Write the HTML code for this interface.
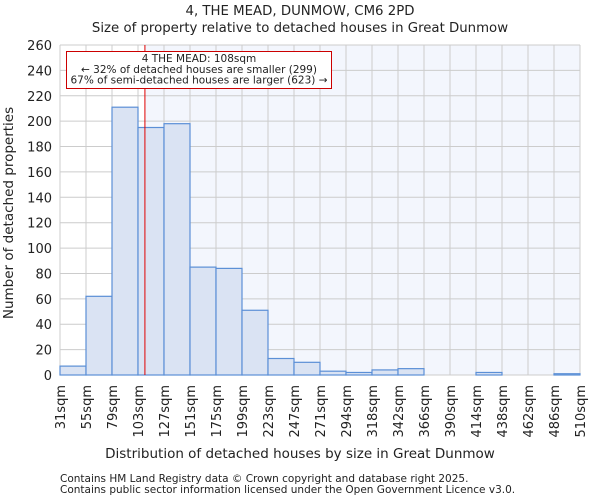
<!DOCTYPE html>
<html><head><meta charset="utf-8"><style>
body{margin:0;background:#fff;font-family:"DejaVu Sans","Liberation Sans",sans-serif;}
svg text{font-family:"DejaVu Sans","Liberation Sans",sans-serif;fill:#222;}
</style></head><body>
<svg id="c" width="600" height="500">
<text x="300" y="15" text-anchor="middle" font-size="13.3">4, THE MEAD, DUNMOW, CM6 2PD</text>
<text x="300" y="32" text-anchor="middle" font-size="13.3">Size of property relative to detached houses in Great Dunmow</text>
<g id="plot"></g>
<text x="300" y="458" text-anchor="middle" font-size="13.5">Distribution of detached houses by size in Great Dunmow</text>
<text transform="translate(13,213) rotate(-90)" text-anchor="middle" font-size="13.5">Number of detached properties</text>
<text x="60" y="482" font-size="10.5">Contains HM Land Registry data © Crown copyright and database right 2025.</text>
<text x="60" y="493" font-size="10.5">Contains public sector information licensed under the Open Government Licence v3.0.</text>
</svg>
<script>
const binLabels=["31sqm","55sqm","79sqm","103sqm","127sqm","151sqm","175sqm","199sqm","223sqm","247sqm","271sqm","294sqm","318sqm","342sqm","366sqm","390sqm","414sqm","438sqm","462sqm","486sqm","510sqm"];
const counts=[7,62,211,195,198,85,84,51,13,10,3,2,4,5,0,0,2,0,0,1];
const yTicks=[0,20,40,60,80,100,120,140,160,180,200,220,240,260];
const propertySize=108;
const binStart=31,binWidth=24;
const X0=60,X1=580,Y0=375,Y1=45,YMAX=260;
const ns="http://www.w3.org/2000/svg";
const g=document.getElementById('plot');
const n=counts.length;
function xb(i){return X0+(X1-X0)*i/n;}
function xv(v){return X0+(v-binStart)/binWidth*(X1-X0)/n;}
function y(v){return Y0-(Y0-Y1)*v/YMAX;}
function mk(t,a){const e=document.createElementNS(ns,t);for(const k in a)e.setAttribute(k,a[k]);g.appendChild(e);return e;}
const rx=xv(propertySize)+1.5;
let e=mk('rect',{x:X0,y:Y1,width:X1-X0,height:Y0-Y1,fill:'#fff'});


e=mk('rect',{x:rx,y:Y1,width:X1-rx,height:Y0-Y1,fill:'#f3f6fd'});


yTicks.forEach(t=>{
 e=mk('line',{x1:X0,x2:X1,y1:y(t),y2:y(t),stroke:'#ccc','stroke-width':1});
 
 
 e=mk('text',{x:X0-8,y:y(t)+5,'text-anchor':'end','font-size':13});
 e.textContent=t;
 
 
});
binLabels.forEach((l,i)=>{
 e=mk('line',{x1:xb(i),x2:xb(i),y1:Y1,y2:Y0,stroke:'#ccc','stroke-width':1});
 
 
 e=mk('text',{transform:`translate(${xb(i)+5},${Y0+10}) rotate(-90)`,'text-anchor':'end','font-size':13});
 e.textContent=l;
 
 
});
counts.forEach((c,i)=>{
 if(c<=0)return;
 e=mk('rect',{x:xb(i),y:y(c),width:xb(i+1)-xb(i),height:Y0-y(c),fill:'#dae3f3',stroke:'#5b8fd6','stroke-width':1.2});
 
 
});
e=mk('line',{x1:rx,x2:rx,y1:Y1,y2:Y0,stroke:'#e00000','stroke-width':1});


e=mk('rect',{x:66.5,y:51.5,width:265,height:37,fill:'#fff',stroke:'#c00','stroke-width':1});


["4 THE MEAD: 108sqm","← 32% of detached houses are smaller (299)","67% of semi-detached houses are larger (623) →"].forEach((s,i)=>{
 e=mk('text',{x:199,y:62+i*10.8,'text-anchor':'middle','font-size':10.5});
 e.textContent=s;
 
 
});
</script>
</body></html>
